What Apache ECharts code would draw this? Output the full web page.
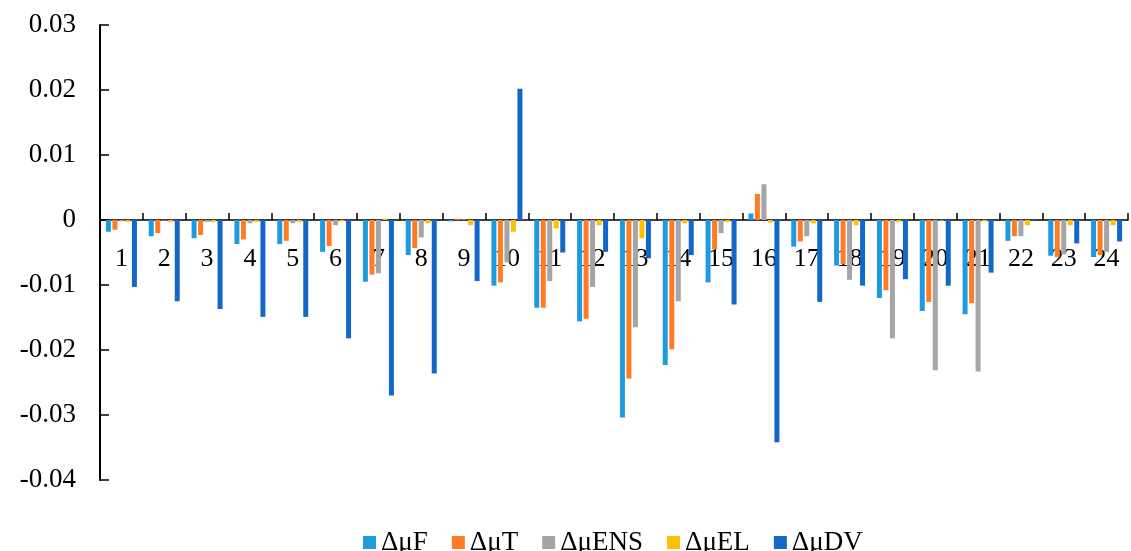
<!DOCTYPE html>
<html>
<head>
<meta charset="utf-8">
<script src="https://cdn.jsdelivr.net/npm/echarts@6/dist/echarts.min.js"></script>
<style>
html,body{margin:0;padding:0;background:#fff;}
#chart{width:1131px;height:551px;}
</style>
</head>
<body>
<div id="chart"></div>
<script>
const categories = ['1','2','3','4','5','6','7','8','9','10','11','12','13','14','15','16','17','18','19','20','21','22','23','24'];
const seriesNames = ['\u0394\u03bcF','\u0394\u03bcT','\u0394\u03bcENS','\u0394\u03bcEL','\u0394\u03bcDV'];
const dF   = [-0.0018,-0.0025,-0.0028,-0.0037,-0.0037,-0.0049,-0.0095,-0.0054,-0.0002,-0.0101,-0.0135,-0.0156,-0.0304,-0.0223,-0.0096,0.0010,-0.0041,-0.0070,-0.0120,-0.0140,-0.0145,-0.0032,-0.0055,-0.0057];
const dT   = [-0.0015,-0.0020,-0.0023,-0.0030,-0.0032,-0.0040,-0.0084,-0.0043,0.0002,-0.0096,-0.0135,-0.0152,-0.0244,-0.0199,-0.0045,0.0040,-0.0033,-0.0068,-0.0108,-0.0126,-0.0128,-0.0025,-0.0057,-0.0054];
const dENS = [-0.0002,-0.0001,-0.0003,-0.0005,-0.0005,-0.0008,-0.0082,-0.0027,0.0001,-0.0065,-0.0094,-0.0103,-0.0165,-0.0125,-0.0020,0.0055,-0.0025,-0.0092,-0.0182,-0.0231,-0.0233,-0.0025,-0.0053,-0.0049];
const dEL  = [-0.0003,-0.0003,-0.0003,-0.0003,-0.0003,-0.0002,0.0002,-0.0005,-0.0008,-0.0018,-0.0013,-0.0008,-0.0028,-0.0005,-0.0003,-0.0004,-0.0005,-0.0008,-0.0003,-0.0001,-0.0002,-0.0008,-0.0008,-0.0008];
const dDV  = [-0.0103,-0.0125,-0.0137,-0.0149,-0.0149,-0.0182,-0.0270,-0.0236,-0.0094,0.0202,-0.0050,-0.0049,-0.0059,-0.0054,-0.0130,-0.0342,-0.0126,-0.0101,-0.0091,-0.0101,-0.0081,-0.0001,-0.0036,-0.0033];
const colors = ['#1E9BE0','#FF7C24','#A5A5A5','#FFC000','#1467C8'];
const yMin = -0.04, yMax = 0.03, yStep = 0.01;

const font = "'Times New Roman','Liberation Serif',serif";
const allData = [dF, dT, dENS, dEL, dDV];
const gridTop = 25, gridBottom = 71, chartH = 551;
const plotH = chartH - gridTop - gridBottom;
const zeroFromBottom = plotH * (0 - yMin) / (yMax - yMin);

const chart = echarts.init(document.getElementById('chart'), null, {renderer:'canvas'});
chart.setOption({
  animation: false,
  grid: {left: 100, right: 3, top: gridTop, bottom: gridBottom},
  legend: {
    left: 358, top: 524,
    itemWidth: 13, itemHeight: 13, itemGap: 24,
    icon: 'rect',
    textStyle: {fontFamily: font, fontSize: 27, color: '#000'},
    data: seriesNames
  },
  xAxis: [{
    type: 'category',
    data: categories,
    axisLine: {onZero: true, lineStyle: {color: '#000', width: 1.5}},
    axisTick: {show: true, inside: true, length: 7, lineStyle: {color: '#000', width: 1.5}},
    axisLabel: {show: false}
  }, {
    type: 'category',
    data: categories,
    position: 'bottom',
    offset: -zeroFromBottom,
    axisLine: {show: false},
    axisTick: {show: false},
    axisLabel: {margin: 26, fontFamily: font, fontSize: 26, color: '#000', interval: 0}
  }],
  yAxis: {
    type: 'value',
    min: yMin, max: yMax, interval: yStep,
    axisLine: {show: true, onZero: false, lineStyle: {color: '#000', width: 2}},
    axisTick: {show: true, inside: true, length: 9, lineStyle: {color: '#000', width: 1.5}},
    axisLabel: {margin: 24, fontFamily: font, fontSize: 27, color: '#000',
      formatter: v => { const r = Math.round(v*100)/100; return r === 0 ? '0' : r.toFixed(2); }},
    splitLine: {show: false}
  },
  series: seriesNames.map((n, i) => ({
    name: n,
    type: 'bar',
    xAxisIndex: 0,
    data: allData[i],
    barWidth: 5,
    barGap: '30%',
    itemStyle: {color: colors[i]}
  }))
});
</script>
</body>
</html>
